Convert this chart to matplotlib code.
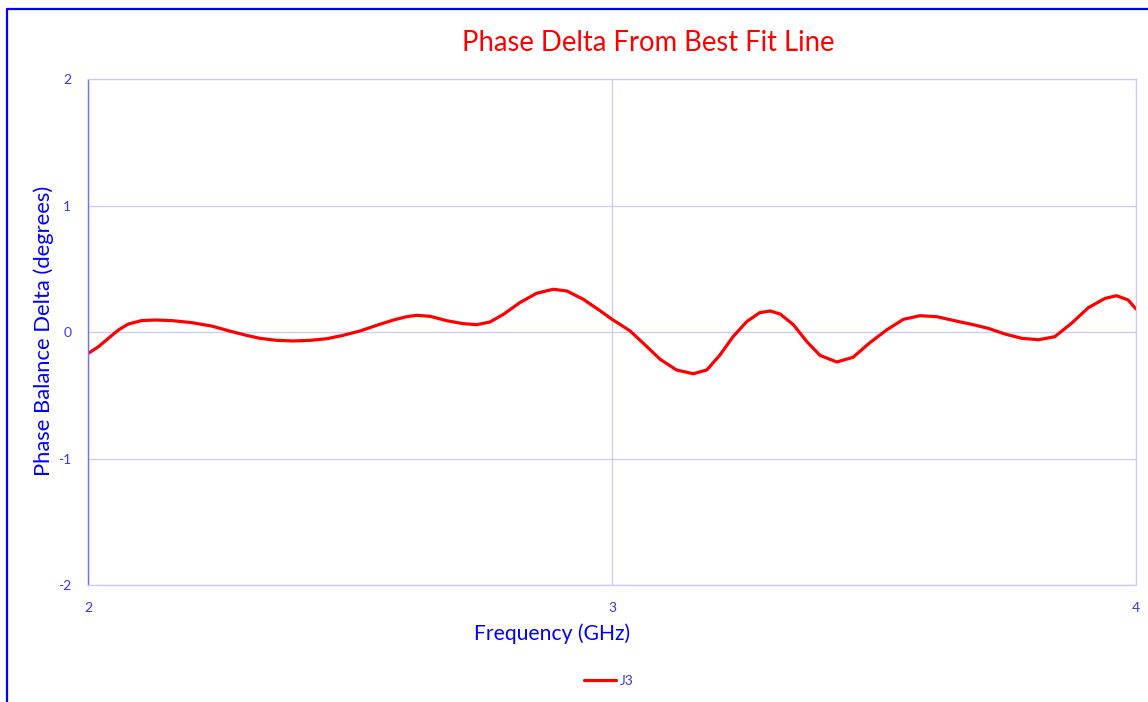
import matplotlib
matplotlib.use("Agg")
import matplotlib.pyplot as plt
from matplotlib.lines import Line2D

# values
freq_ghz = [2.000, 2.020, 2.039, 2.058, 2.077, 2.102, 2.128, 2.160, 2.198, 2.236,
            2.268, 2.300, 2.328, 2.360, 2.392, 2.424, 2.456, 2.487, 2.519, 2.551,
            2.583, 2.608, 2.627, 2.653, 2.685, 2.716, 2.742, 2.767, 2.793, 2.824,
            2.856, 2.888, 2.914, 2.945, 2.977, 3.000, 3.015, 3.034, 3.060, 3.092,
            3.123, 3.155, 3.181, 3.206, 3.231, 3.257, 3.282, 3.302, 3.321, 3.346,
            3.372, 3.397, 3.429, 3.460, 3.492, 3.524, 3.556, 3.588, 3.620, 3.664,
            3.686, 3.718, 3.750, 3.782, 3.814, 3.845, 3.877, 3.909, 3.941, 3.963,
            3.985, 4.000]
j3_delta = [-0.170, -0.116, -0.050, 0.016, 0.063, 0.090, 0.095, 0.090, 0.074, 0.047,
            0.010, -0.024, -0.050, -0.066, -0.071, -0.066, -0.053, -0.026, 0.008, 0.053,
            0.095, 0.121, 0.132, 0.124, 0.089, 0.066, 0.058, 0.079, 0.140, 0.232,
            0.306, 0.338, 0.324, 0.259, 0.169, 0.100, 0.061, 0.010, -0.090, -0.216,
            -0.300, -0.330, -0.300, -0.182, -0.037, 0.082, 0.153, 0.166, 0.142, 0.058,
            -0.077, -0.185, -0.237, -0.200, -0.085, 0.016, 0.100, 0.129, 0.121, 0.080,
            0.061, 0.029, -0.016, -0.050, -0.061, -0.037, 0.069, 0.192, 0.266, 0.287,
            0.253, 0.182]

x_ticks = [2, 3, 4]
y_ticks = [-2, -1, 0, 1, 2]

W, H = 1148, 702
font = ["Lato", "DejaVu Sans"]
blue = "#0000ff"
tick_blue = "#3333ff"
grid_col = "#c8c8ff"

plt.rcParams["axes.unicode_minus"] = False

fig = plt.figure(figsize=(W / 100, H / 100), dpi=100)
ax = fig.add_axes([88 / W, 1 - 585 / H, (1136 - 88) / W, (585 - 79) / H])

ax.plot(freq_ghz, j3_delta, color="#ff0000", lw=2.3, solid_capstyle="round",
        solid_joinstyle="round", label="J3")

ax.set_xlim(2, 4)
ax.set_ylim(-2, 2)
ax.set_xticks(x_ticks)
ax.set_yticks(y_ticks)
ax.grid(True, color=grid_col, lw=0.9)
ax.tick_params(length=0, colors=tick_blue, labelsize=10, pad=12)
for lab in ax.get_xticklabels() + ax.get_yticklabels():
    lab.set_family(font)
for side in ["top", "right", "bottom"]:
    ax.spines[side].set_color(grid_col)
    ax.spines[side].set_linewidth(0.9)
ax.spines["left"].set_color("#7070ff")
ax.spines["left"].set_linewidth(1.0)

fig.text(648 / W, 1 - 43 / H, "Phase Delta From Best Fit Line", color="#ff0000",
         fontsize=19.8, family=font, ha="center", va="center")
fig.text(44 / W, 1 - 331 / H, "Phase Balance Delta (degrees)", color=blue,
         fontsize=15.8, family=font, ha="center", va="center", rotation=90)
fig.text(552 / W, 1 - 634 / H, "Frequency (GHz)", color=blue,
         fontsize=15.2, family=font, ha="center", va="center")

leg = fig.legend(loc="center", bbox_to_anchor=(609 / W, 1 - 681 / H), frameon=False,
                 handlelength=2.3, handletextpad=0.25, prop={"family": font, "size": 10})
for t in leg.get_texts():
    t.set_color(tick_blue)

# outer chart border (left and top edges visible)
fig.add_artist(Line2D([7 / W, 7 / W, 1.0], [0.0, 1 - 8.5 / H, 1 - 8.5 / H],
                      transform=fig.transFigure, color=blue, lw=1.6))

fig.savefig("out.png", dpi=100, facecolor="white")
